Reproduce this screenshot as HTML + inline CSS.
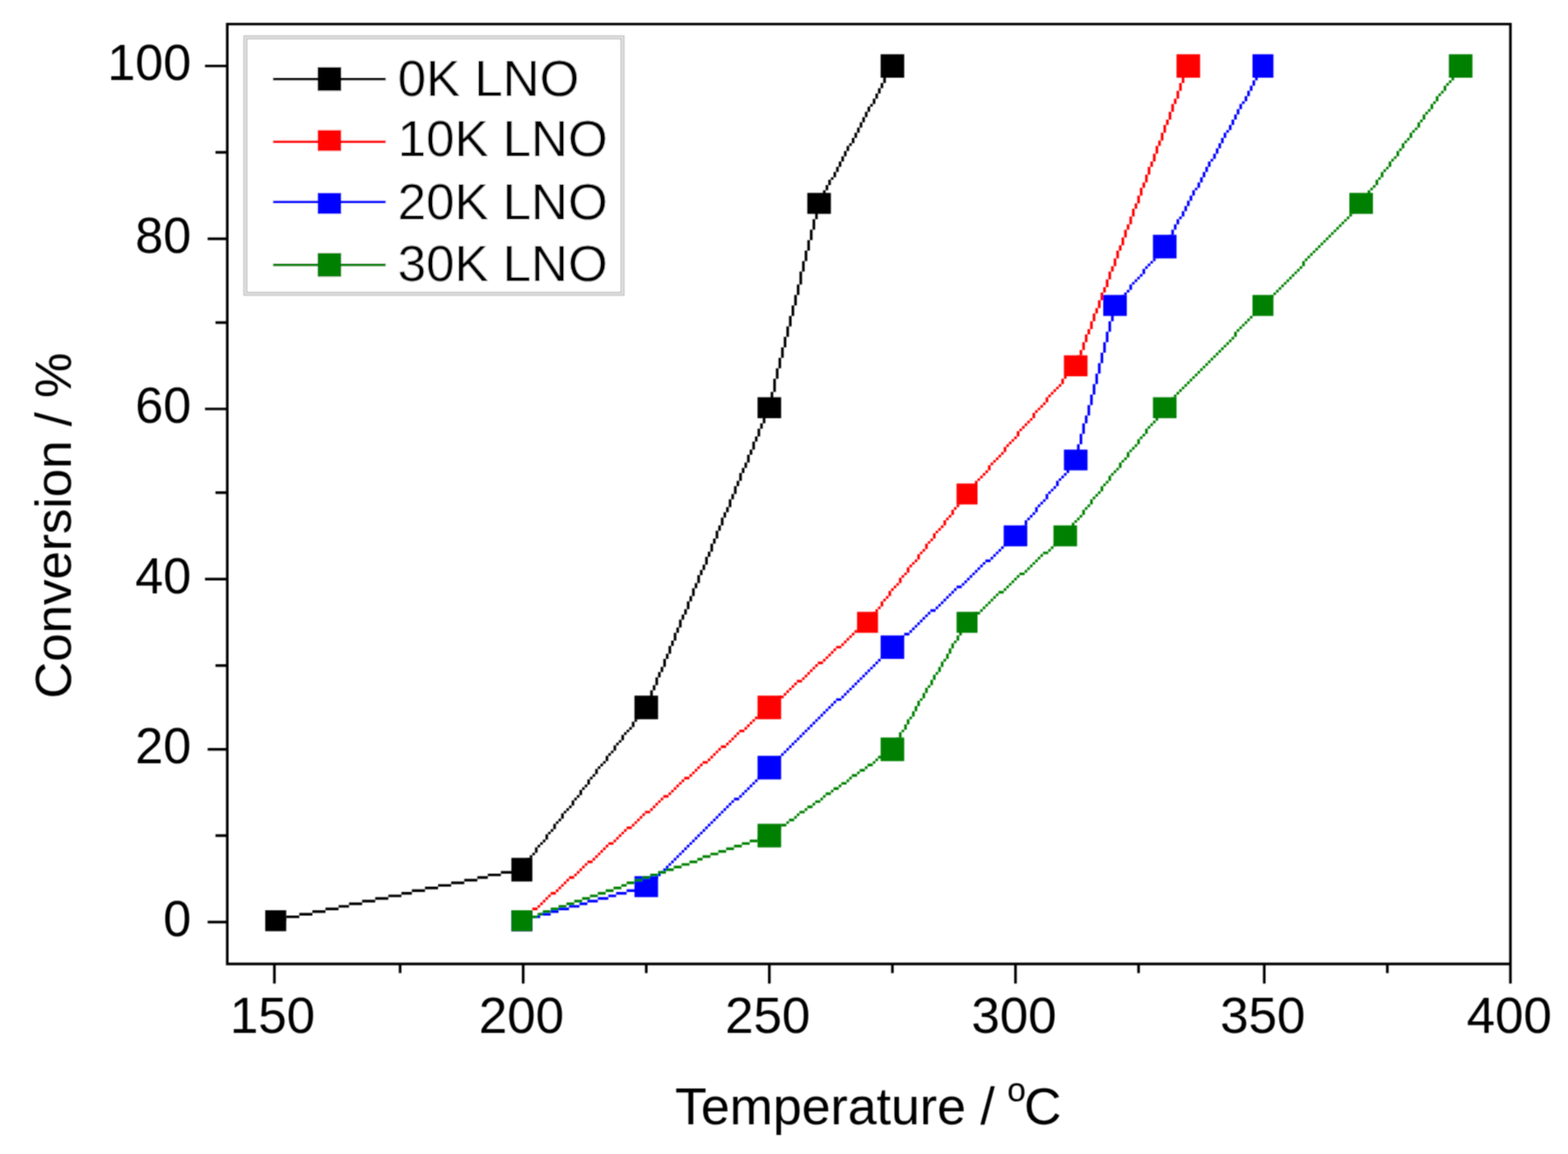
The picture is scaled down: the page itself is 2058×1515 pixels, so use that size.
<!DOCTYPE html><html><head><meta charset="utf-8"><title>Conversion vs Temperature</title>
<style>html,body{margin:0;padding:0;background:#fff;overflow:hidden;}svg{display:block;}text{font-family:"Liberation Sans",Arial,sans-serif;fill:#000;}</style></head><body>
<svg width="2058" height="1515" viewBox="0 0 2058 1515">
<defs><filter id="soft" x="0" y="0" width="100%" height="100%" filterUnits="userSpaceOnUse"><feConvolveMatrix order="3" kernelMatrix="1 2 1 2 4 2 1 2 1" divisor="16" edgeMode="duplicate" preserveAlpha="false"/></filter></defs>
<rect x="0" y="0" width="2058" height="1515" fill="#fff"/>
<g filter="url(#soft)">
<rect x="322.1" y="49.1" width="494.9" height="336.6" fill="#fff" stroke="#c0c0c0" stroke-width="5.2"/>
<rect x="322.1" y="49.1" width="494.9" height="336.6" fill="none" stroke="#e6e6e6" stroke-width="2"/>
<path d="M296.58 29.90H1984.15V33.33H296.58ZM296.58 1263.78H1984.15V1267.22H296.58ZM296.58 29.90H300.02V1267.22H296.58ZM1980.71 29.90H1984.15V1267.22H1980.71ZM358.45 1267.22H361.88V1291.28H358.45ZM684.96 1267.22H688.40V1291.28H684.96ZM1008.04 1267.22H1011.48V1291.28H1008.04ZM1331.12 1267.22H1334.56V1291.28H1331.12ZM1657.63 1267.22H1661.07V1291.28H1657.63ZM1980.71 1267.22H1984.15V1291.28H1980.71ZM523.42 1267.22H526.86V1277.53H523.42ZM846.50 1267.22H849.94V1277.53H846.50ZM1169.58 1267.22H1173.02V1277.53H1169.58ZM1492.66 1267.22H1496.10V1277.53H1492.66ZM1819.17 1267.22H1822.61V1277.53H1819.17ZM269.09 84.89H296.58V88.33H269.09ZM272.52 311.73H296.58V315.17H272.52ZM269.09 535.13H296.58V538.57H269.09ZM269.09 758.54H296.58V761.98H269.09ZM272.52 981.94H296.58V985.38H272.52ZM272.52 1208.79H296.58V1212.22H272.52ZM282.83 198.31H296.58V201.75H282.83ZM282.83 421.71H296.58V425.15H282.83ZM282.83 645.12H296.58V648.56H282.83ZM282.83 871.96H296.58V875.40H282.83ZM282.83 1095.37H296.58V1098.80H282.83Z" fill="#000"/>
<path d="M358.45 1205.35H375.63V1208.79H358.45ZM375.63 1201.91H392.82V1205.35H375.63ZM392.82 1198.48H410.00V1201.91H392.82ZM410.00 1195.04H427.19V1198.48H410.00ZM427.19 1191.60H444.37V1195.04H427.19ZM444.37 1188.16H458.12V1191.60H444.37ZM458.12 1184.73H475.31V1188.16H458.12ZM475.31 1181.29H492.49V1184.73H475.31ZM492.49 1177.85H509.68V1181.29H492.49ZM509.68 1174.42H526.86V1177.85H509.68ZM526.86 1170.98H540.61V1174.42H526.86ZM540.61 1167.54H557.79V1170.98H540.61ZM557.79 1164.11H574.98V1167.54H557.79ZM574.98 1160.67H592.16V1164.11H574.98ZM592.16 1157.23H609.35V1160.67H592.16ZM609.35 1153.80H626.53V1157.23H609.35ZM626.53 1150.36H640.28V1153.80H626.53ZM640.28 1146.92H657.47V1150.36H640.28ZM657.47 1143.48H674.65V1146.92H657.47ZM674.65 1140.05H684.96V1143.48H674.65ZM846.50 926.95H849.94V930.39H846.50ZM843.06 930.39H846.50V933.83H843.06ZM839.63 933.83H843.06V940.70H839.63ZM836.19 940.70H839.63V944.14H836.19ZM832.75 944.14H836.19V947.57H832.75ZM829.32 947.57H832.75V954.45H829.32ZM825.88 954.45H829.32V957.89H825.88ZM822.44 957.89H825.88V961.32H822.44ZM819.01 961.32H822.44V964.76H819.01ZM815.57 964.76H819.01V971.63H815.57ZM812.13 971.63H815.57V975.07H812.13ZM808.69 975.07H812.13V978.51H808.69ZM805.26 978.51H808.69V985.38H805.26ZM801.82 985.38H805.26V988.82H801.82ZM798.38 988.82H801.82V992.26H798.38ZM794.95 992.26H798.38V999.13H794.95ZM791.51 999.13H794.95V1002.57H791.51ZM788.07 1002.57H791.51V1006.00H788.07ZM784.64 1006.00H788.07V1009.44H784.64ZM781.20 1009.44H784.64V1016.31H781.20ZM777.76 1016.31H781.20V1019.75H777.76ZM774.32 1019.75H777.76V1023.19H774.32ZM770.89 1023.19H774.32V1030.06H770.89ZM767.45 1030.06H770.89V1033.50H767.45ZM764.01 1033.50H767.45V1036.94H764.01ZM760.58 1036.94H764.01V1043.81H760.58ZM757.14 1043.81H760.58V1047.25H757.14ZM753.70 1047.25H757.14V1050.68H753.70ZM750.27 1050.68H753.70V1057.56H750.27ZM746.83 1057.56H750.27V1061.00H746.83ZM743.39 1061.00H746.83V1064.43H743.39ZM739.95 1064.43H743.39V1067.87H739.95ZM736.52 1067.87H739.95V1074.74H736.52ZM733.08 1074.74H736.52V1078.18H733.08ZM729.64 1078.18H733.08V1081.62H729.64ZM726.21 1081.62H729.64V1088.49H726.21ZM722.77 1088.49H726.21V1091.93H722.77ZM719.33 1091.93H722.77V1095.37H719.33ZM715.90 1095.37H719.33V1102.24H715.90ZM712.46 1102.24H715.90V1105.68H712.46ZM709.02 1105.68H712.46V1109.11H709.02ZM705.58 1109.11H709.02V1112.55H705.58ZM702.15 1112.55H705.58V1119.42H702.15ZM698.71 1119.42H702.15V1122.86H698.71ZM695.27 1122.86H698.71V1126.30H695.27ZM691.84 1126.30H695.27V1133.17H691.84ZM688.40 1133.17H691.84V1136.61H688.40ZM684.96 1136.61H688.40V1140.05H684.96ZM681.53 1140.05H684.96V1143.48H681.53ZM1008.04 531.70H1011.48V538.57H1008.04ZM1004.60 538.57H1008.04V545.45H1004.60ZM1001.17 545.45H1004.60V555.76H1001.17ZM997.73 555.76H1001.17V562.63H997.73ZM994.29 562.63H997.73V572.94H994.29ZM990.86 572.94H994.29V579.82H990.86ZM987.42 579.82H990.86V590.13H987.42ZM983.98 590.13H987.42V597.00H983.98ZM980.54 597.00H983.98V607.31H980.54ZM977.11 607.31H980.54V614.19H977.11ZM973.67 614.19H977.11V621.06H973.67ZM970.23 621.06H973.67V631.37H970.23ZM966.80 631.37H970.23V638.24H966.80ZM963.36 638.24H966.80V648.56H963.36ZM959.92 648.56H963.36V655.43H959.92ZM956.49 655.43H959.92V665.74H956.49ZM953.05 665.74H956.49V672.61H953.05ZM949.61 672.61H953.05V679.49H949.61ZM946.17 679.49H949.61V689.80H946.17ZM942.74 689.80H946.17V696.67H942.74ZM939.30 696.67H942.74V706.98H939.30ZM935.86 706.98H939.30V713.86H935.86ZM932.43 713.86H935.86V724.17H932.43ZM928.99 724.17H932.43V731.04H928.99ZM925.55 731.04H928.99V741.35H925.55ZM922.12 741.35H925.55V748.23H922.12ZM918.68 748.23H922.12V755.10H918.68ZM915.24 755.10H918.68V765.41H915.24ZM911.80 765.41H915.24V772.29H911.80ZM908.37 772.29H911.80V782.60H908.37ZM904.93 782.60H908.37V789.47H904.93ZM901.49 789.47H904.93V799.78H901.49ZM898.06 799.78H901.49V806.66H898.06ZM894.62 806.66H898.06V813.53H894.62ZM891.18 813.53H894.62V823.84H891.18ZM887.75 823.84H891.18V830.72H887.75ZM884.31 830.72H887.75V841.03H884.31ZM880.87 841.03H884.31V847.90H880.87ZM877.43 847.90H880.87V858.21H877.43ZM874.00 858.21H877.43V865.09H874.00ZM870.56 865.09H874.00V875.40H870.56ZM867.12 875.40H870.56V882.27H867.12ZM863.69 882.27H867.12V889.15H863.69ZM860.25 889.15H863.69V899.46H860.25ZM856.81 899.46H860.25V906.33H856.81ZM853.38 906.33H856.81V916.64H853.38ZM849.94 916.64H853.38V923.52H849.94ZM846.50 923.52H849.94V930.39H846.50ZM1073.34 263.61H1076.78V273.92H1073.34ZM1069.91 273.92H1073.34V287.67H1069.91ZM1066.47 287.67H1069.91V301.42H1066.47ZM1063.03 301.42H1066.47V315.17H1063.03ZM1059.60 315.17H1063.03V328.91H1059.60ZM1056.16 328.91H1059.60V342.66H1056.16ZM1052.72 342.66H1056.16V356.41H1052.72ZM1049.28 356.41H1052.72V373.60H1049.28ZM1045.85 373.60H1049.28V387.34H1045.85ZM1042.41 387.34H1045.85V401.09H1042.41ZM1038.97 401.09H1042.41V414.84H1038.97ZM1035.54 414.84H1038.97V428.59H1035.54ZM1032.10 428.59H1035.54V442.34H1032.10ZM1028.66 442.34H1032.10V456.08H1028.66ZM1025.23 456.08H1028.66V469.83H1025.23ZM1021.79 469.83H1025.23V483.58H1021.79ZM1018.35 483.58H1021.79V497.33H1018.35ZM1014.91 497.33H1018.35V514.51H1014.91ZM1011.48 514.51H1014.91V528.26H1011.48ZM1008.04 528.26H1011.48V535.13H1008.04ZM1169.58 84.89H1173.02V91.76H1169.58ZM1166.14 91.76H1169.58V95.20H1166.14ZM1162.71 95.20H1166.14V102.07H1162.71ZM1159.27 102.07H1162.71V108.95H1159.27ZM1155.83 108.95H1159.27V115.82H1155.83ZM1152.39 115.82H1155.83V122.69H1152.39ZM1148.96 122.69H1152.39V129.57H1148.96ZM1145.52 129.57H1148.96V136.44H1145.52ZM1142.08 136.44H1145.52V139.88H1142.08ZM1138.65 139.88H1142.08V146.75H1138.65ZM1135.21 146.75H1138.65V153.63H1135.21ZM1131.77 153.63H1135.21V160.50H1131.77ZM1128.34 160.50H1131.77V167.38H1128.34ZM1124.90 167.38H1128.34V174.25H1124.90ZM1121.46 174.25H1124.90V181.12H1121.46ZM1118.02 181.12H1121.46V188.00H1118.02ZM1114.59 188.00H1118.02V191.44H1114.59ZM1111.15 191.44H1114.59V198.31H1111.15ZM1107.71 198.31H1111.15V205.18H1107.71ZM1104.28 205.18H1107.71V212.06H1104.28ZM1100.84 212.06H1104.28V218.93H1100.84ZM1097.40 218.93H1100.84V225.81H1097.40ZM1093.97 225.81H1097.40V232.68H1093.97ZM1090.53 232.68H1093.97V236.12H1090.53ZM1087.09 236.12H1090.53V242.99H1087.09ZM1083.65 242.99H1087.09V249.86H1083.65ZM1080.22 249.86H1083.65V256.74H1080.22ZM1076.78 256.74H1080.22V263.61H1076.78ZM1073.34 263.61H1076.78V267.05H1073.34Z" fill="#000000"/>
<path d="M348.14 1195.04H375.63V1222.54H348.14ZM671.21 1126.30H698.71V1157.23H671.21ZM832.75 913.20H863.69V944.14H832.75ZM994.29 521.39H1025.23V548.88H994.29ZM1059.60 253.30H1090.53V280.80H1059.60ZM1155.83 71.14H1186.76V102.07H1155.83Z" fill="#000000"/>
<path d="M681.53 1205.35H688.40V1208.79H681.53ZM688.40 1201.91H691.84V1205.35H688.40ZM691.84 1198.48H695.27V1201.91H691.84ZM695.27 1195.04H698.71V1198.48H695.27ZM698.71 1191.60H705.58V1195.04H698.71ZM705.58 1188.16H709.02V1191.60H705.58ZM709.02 1184.73H712.46V1188.16H709.02ZM712.46 1181.29H715.90V1184.73H712.46ZM715.90 1177.85H719.33V1181.29H715.90ZM719.33 1174.42H722.77V1177.85H719.33ZM722.77 1170.98H729.64V1174.42H722.77ZM729.64 1167.54H733.08V1170.98H729.64ZM733.08 1164.11H736.52V1167.54H733.08ZM736.52 1160.67H739.95V1164.11H736.52ZM739.95 1157.23H743.39V1160.67H739.95ZM743.39 1153.80H746.83V1157.23H743.39ZM746.83 1150.36H753.70V1153.80H746.83ZM753.70 1146.92H757.14V1150.36H753.70ZM757.14 1143.48H760.58V1146.92H757.14ZM760.58 1140.05H764.01V1143.48H760.58ZM764.01 1136.61H767.45V1140.05H764.01ZM767.45 1133.17H770.89V1136.61H767.45ZM770.89 1129.74H777.76V1133.17H770.89ZM777.76 1126.30H781.20V1129.74H777.76ZM781.20 1122.86H784.64V1126.30H781.20ZM784.64 1119.42H788.07V1122.86H784.64ZM788.07 1115.99H791.51V1119.42H788.07ZM791.51 1112.55H794.95V1115.99H791.51ZM794.95 1109.11H798.38V1112.55H794.95ZM798.38 1105.68H805.26V1109.11H798.38ZM805.26 1102.24H808.69V1105.68H805.26ZM808.69 1098.80H812.13V1102.24H808.69ZM812.13 1095.37H815.57V1098.80H812.13ZM815.57 1091.93H819.01V1095.37H815.57ZM819.01 1088.49H822.44V1091.93H819.01ZM822.44 1085.06H829.32V1088.49H822.44ZM829.32 1081.62H832.75V1085.06H829.32ZM832.75 1078.18H836.19V1081.62H832.75ZM836.19 1074.74H839.63V1078.18H836.19ZM839.63 1071.31H843.06V1074.74H839.63ZM843.06 1067.87H846.50V1071.31H843.06ZM846.50 1064.43H853.38V1067.87H846.50ZM853.38 1061.00H856.81V1064.43H853.38ZM856.81 1057.56H860.25V1061.00H856.81ZM860.25 1054.12H863.69V1057.56H860.25ZM863.69 1050.68H867.12V1054.12H863.69ZM867.12 1047.25H870.56V1050.68H867.12ZM870.56 1043.81H877.43V1047.25H870.56ZM877.43 1040.37H880.87V1043.81H877.43ZM880.87 1036.94H884.31V1040.37H880.87ZM884.31 1033.50H887.75V1036.94H884.31ZM887.75 1030.06H891.18V1033.50H887.75ZM891.18 1026.63H894.62V1030.06H891.18ZM894.62 1023.19H898.06V1026.63H894.62ZM898.06 1019.75H904.93V1023.19H898.06ZM904.93 1016.31H908.37V1019.75H904.93ZM908.37 1012.88H911.80V1016.31H908.37ZM911.80 1009.44H915.24V1012.88H911.80ZM915.24 1006.00H918.68V1009.44H915.24ZM918.68 1002.57H922.12V1006.00H918.68ZM922.12 999.13H928.99V1002.57H922.12ZM928.99 995.69H932.43V999.13H928.99ZM932.43 992.26H935.86V995.69H932.43ZM935.86 988.82H939.30V992.26H935.86ZM939.30 985.38H942.74V988.82H939.30ZM942.74 981.94H946.17V985.38H942.74ZM946.17 978.51H953.05V981.94H946.17ZM953.05 975.07H956.49V978.51H953.05ZM956.49 971.63H959.92V975.07H956.49ZM959.92 968.20H963.36V971.63H959.92ZM963.36 964.76H966.80V968.20H963.36ZM966.80 961.32H970.23V964.76H966.80ZM970.23 957.89H977.11V961.32H970.23ZM977.11 954.45H980.54V957.89H977.11ZM980.54 951.01H983.98V954.45H980.54ZM983.98 947.57H987.42V951.01H983.98ZM987.42 944.14H990.86V947.57H987.42ZM990.86 940.70H994.29V944.14H990.86ZM994.29 937.26H997.73V940.70H994.29ZM997.73 933.83H1004.60V937.26H997.73ZM1004.60 930.39H1008.04V933.83H1004.60ZM1008.04 926.95H1011.48V930.39H1008.04ZM1008.04 926.95H1011.48V930.39H1008.04ZM1011.48 923.52H1014.91V926.95H1011.48ZM1014.91 920.08H1018.35V923.52H1014.91ZM1018.35 916.64H1021.79V920.08H1018.35ZM1021.79 913.20H1028.66V916.64H1021.79ZM1028.66 909.77H1032.10V913.20H1028.66ZM1032.10 906.33H1035.54V909.77H1032.10ZM1035.54 902.89H1038.97V906.33H1035.54ZM1038.97 899.46H1042.41V902.89H1038.97ZM1042.41 896.02H1045.85V899.46H1042.41ZM1045.85 892.58H1052.72V896.02H1045.85ZM1052.72 889.15H1056.16V892.58H1052.72ZM1056.16 885.71H1059.60V889.15H1056.16ZM1059.60 882.27H1063.03V885.71H1059.60ZM1063.03 878.83H1066.47V882.27H1063.03ZM1066.47 875.40H1069.91V878.83H1066.47ZM1069.91 871.96H1073.34V875.40H1069.91ZM1073.34 868.52H1080.22V871.96H1073.34ZM1080.22 865.09H1083.65V868.52H1080.22ZM1083.65 861.65H1087.09V865.09H1083.65ZM1087.09 858.21H1090.53V861.65H1087.09ZM1090.53 854.78H1093.97V858.21H1090.53ZM1093.97 851.34H1097.40V854.78H1093.97ZM1097.40 847.90H1104.28V851.34H1097.40ZM1104.28 844.46H1107.71V847.90H1104.28ZM1107.71 841.03H1111.15V844.46H1107.71ZM1111.15 837.59H1114.59V841.03H1111.15ZM1114.59 834.15H1118.02V837.59H1114.59ZM1118.02 830.72H1121.46V834.15H1118.02ZM1121.46 827.28H1124.90V830.72H1121.46ZM1124.90 823.84H1131.77V827.28H1124.90ZM1131.77 820.41H1135.21V823.84H1131.77ZM1135.21 816.97H1138.65V820.41H1135.21ZM1265.82 648.56H1269.25V651.99H1265.82ZM1262.38 651.99H1265.82V658.87H1262.38ZM1258.94 658.87H1262.38V662.30H1258.94ZM1255.50 662.30H1258.94V665.74H1255.50ZM1252.07 665.74H1255.50V669.18H1252.07ZM1248.63 669.18H1252.07V676.05H1248.63ZM1245.19 676.05H1248.63V679.49H1245.19ZM1241.76 679.49H1245.19V682.93H1241.76ZM1238.32 682.93H1241.76V689.80H1238.32ZM1234.88 689.80H1238.32V693.24H1234.88ZM1231.45 693.24H1234.88V696.67H1231.45ZM1228.01 696.67H1231.45V700.11H1228.01ZM1224.57 700.11H1228.01V706.98H1224.57ZM1221.13 706.98H1224.57V710.42H1221.13ZM1217.70 710.42H1221.13V713.86H1217.70ZM1214.26 713.86H1217.70V720.73H1214.26ZM1210.82 720.73H1214.26V724.17H1210.82ZM1207.39 724.17H1210.82V727.61H1207.39ZM1203.95 727.61H1207.39V734.48H1203.95ZM1200.51 734.48H1203.95V737.92H1200.51ZM1197.08 737.92H1200.51V741.35H1197.08ZM1193.64 741.35H1197.08V744.79H1193.64ZM1190.20 744.79H1193.64V751.67H1190.20ZM1186.76 751.67H1190.20V755.10H1186.76ZM1183.33 755.10H1186.76V758.54H1183.33ZM1179.89 758.54H1183.33V765.41H1179.89ZM1176.45 765.41H1179.89V768.85H1176.45ZM1173.02 768.85H1176.45V772.29H1173.02ZM1169.58 772.29H1173.02V775.72H1169.58ZM1166.14 775.72H1169.58V782.60H1166.14ZM1162.71 782.60H1166.14V786.04H1162.71ZM1159.27 786.04H1162.71V789.47H1159.27ZM1155.83 789.47H1159.27V796.35H1155.83ZM1152.39 796.35H1155.83V799.78H1152.39ZM1148.96 799.78H1152.39V803.22H1148.96ZM1145.52 803.22H1148.96V806.66H1145.52ZM1142.08 806.66H1145.52V813.53H1142.08ZM1138.65 813.53H1142.08V816.97H1138.65ZM1410.17 480.14H1413.61V483.58H1410.17ZM1406.73 483.58H1410.17V487.02H1406.73ZM1403.30 487.02H1406.73V490.45H1403.30ZM1399.86 490.45H1403.30V493.89H1399.86ZM1396.42 493.89H1399.86V497.33H1396.42ZM1392.98 497.33H1396.42V504.20H1392.98ZM1389.55 504.20H1392.98V507.64H1389.55ZM1386.11 507.64H1389.55V511.08H1386.11ZM1382.67 511.08H1386.11V514.51H1382.67ZM1379.24 514.51H1382.67V517.95H1379.24ZM1375.80 517.95H1379.24V521.39H1375.80ZM1372.36 521.39H1375.80V528.26H1372.36ZM1368.93 528.26H1372.36V531.70H1368.93ZM1365.49 531.70H1368.93V535.13H1365.49ZM1362.05 535.13H1365.49V538.57H1362.05ZM1358.62 538.57H1362.05V542.01H1358.62ZM1355.18 542.01H1358.62V548.88H1355.18ZM1351.74 548.88H1355.18V552.32H1351.74ZM1348.30 552.32H1351.74V555.76H1348.30ZM1344.87 555.76H1348.30V559.19H1344.87ZM1341.43 559.19H1344.87V562.63H1341.43ZM1337.99 562.63H1341.43V566.07H1337.99ZM1334.56 566.07H1337.99V572.94H1334.56ZM1331.12 572.94H1334.56V576.38H1331.12ZM1327.68 576.38H1331.12V579.82H1327.68ZM1324.24 579.82H1327.68V583.25H1324.24ZM1320.81 583.25H1324.24V586.69H1320.81ZM1317.37 586.69H1320.81V593.56H1317.37ZM1313.93 593.56H1317.37V597.00H1313.93ZM1310.50 597.00H1313.93V600.44H1310.50ZM1307.06 600.44H1310.50V603.88H1307.06ZM1303.62 603.88H1307.06V607.31H1303.62ZM1300.19 607.31H1303.62V610.75H1300.19ZM1296.75 610.75H1300.19V617.62H1296.75ZM1293.31 617.62H1296.75V621.06H1293.31ZM1289.88 621.06H1293.31V624.50H1289.88ZM1286.44 624.50H1289.88V627.93H1286.44ZM1283.00 627.93H1286.44V631.37H1283.00ZM1279.56 631.37H1283.00V638.24H1279.56ZM1276.13 638.24H1279.56V641.68H1276.13ZM1272.69 641.68H1276.13V645.12H1272.69ZM1269.25 645.12H1272.69V648.56H1269.25ZM1265.82 648.56H1269.25V651.99H1265.82ZM1557.96 84.89H1561.40V91.76H1557.96ZM1554.52 91.76H1557.96V102.07H1554.52ZM1551.09 102.07H1554.52V108.95H1551.09ZM1547.65 108.95H1551.09V119.26H1547.65ZM1544.21 119.26H1547.65V129.57H1544.21ZM1540.78 129.57H1544.21V136.44H1540.78ZM1537.34 136.44H1540.78V146.75H1537.34ZM1533.90 146.75H1537.34V157.06H1533.90ZM1530.46 157.06H1533.90V163.94H1530.46ZM1527.03 163.94H1530.46V174.25H1527.03ZM1523.59 174.25H1527.03V184.56H1523.59ZM1520.15 184.56H1523.59V191.44H1520.15ZM1516.72 191.44H1520.15V201.75H1516.72ZM1513.28 201.75H1516.72V212.06H1513.28ZM1509.84 212.06H1513.28V218.93H1509.84ZM1506.41 218.93H1509.84V229.24H1506.41ZM1502.97 229.24H1506.41V239.55H1502.97ZM1499.53 239.55H1502.97V246.43H1499.53ZM1496.10 246.43H1499.53V256.74H1496.10ZM1492.66 256.74H1496.10V267.05H1492.66ZM1489.22 267.05H1492.66V273.92H1489.22ZM1485.78 273.92H1489.22V284.23H1485.78ZM1482.35 284.23H1485.78V294.54H1482.35ZM1478.91 294.54H1482.35V301.42H1478.91ZM1475.47 301.42H1478.91V311.73H1475.47ZM1472.04 311.73H1475.47V322.04H1472.04ZM1468.60 322.04H1472.04V328.91H1468.60ZM1465.16 328.91H1468.60V339.23H1465.16ZM1461.72 339.23H1465.16V349.54H1461.72ZM1458.29 349.54H1461.72V356.41H1458.29ZM1454.85 356.41H1458.29V366.72H1454.85ZM1451.41 366.72H1454.85V377.03H1451.41ZM1447.98 377.03H1451.41V383.91H1447.98ZM1444.54 383.91H1447.98V394.22H1444.54ZM1441.10 394.22H1444.54V404.53H1441.10ZM1437.67 404.53H1441.10V411.40H1437.67ZM1434.23 411.40H1437.67V421.71H1434.23ZM1430.79 421.71H1434.23V432.02H1430.79ZM1427.36 432.02H1430.79V438.90H1427.36ZM1423.92 438.90H1427.36V449.21H1423.92ZM1420.48 449.21H1423.92V459.52H1420.48ZM1417.04 459.52H1420.48V466.39H1417.04ZM1413.61 466.39H1417.04V476.71H1413.61ZM1410.17 476.71H1413.61V483.58H1410.17Z" fill="#ff0000"/>
<path d="M671.21 1195.04H698.71V1222.54H671.21ZM994.29 913.20H1025.23V944.14H994.29ZM1124.90 803.22H1152.39V830.72H1124.90ZM1255.50 634.81H1283.00V662.30H1255.50ZM1396.42 466.39H1427.36V493.89H1396.42ZM1544.21 71.14H1575.15V102.07H1544.21Z" fill="#ff0000"/>
<path d="M681.53 1205.35H695.27V1208.79H681.53ZM695.27 1201.91H709.02V1205.35H695.27ZM709.02 1198.48H722.77V1201.91H709.02ZM722.77 1195.04H733.08V1198.48H722.77ZM733.08 1191.60H746.83V1195.04H733.08ZM746.83 1188.16H760.58V1191.60H746.83ZM760.58 1184.73H770.89V1188.16H760.58ZM770.89 1181.29H784.64V1184.73H770.89ZM784.64 1177.85H798.38V1181.29H784.64ZM798.38 1174.42H808.69V1177.85H798.38ZM808.69 1170.98H822.44V1174.42H808.69ZM822.44 1167.54H836.19V1170.98H822.44ZM836.19 1164.11H849.94V1167.54H836.19ZM846.50 1160.67H853.38V1164.11H846.50ZM853.38 1157.23H856.81V1160.67H853.38ZM856.81 1153.80H860.25V1157.23H856.81ZM860.25 1150.36H863.69V1153.80H860.25ZM863.69 1146.92H867.12V1150.36H863.69ZM867.12 1143.48H870.56V1146.92H867.12ZM870.56 1140.05H874.00V1143.48H870.56ZM874.00 1136.61H877.43V1140.05H874.00ZM877.43 1133.17H880.87V1136.61H877.43ZM880.87 1129.74H884.31V1133.17H880.87ZM884.31 1126.30H887.75V1129.74H884.31ZM887.75 1122.86H891.18V1126.30H887.75ZM891.18 1119.42H894.62V1122.86H891.18ZM894.62 1115.99H898.06V1119.42H894.62ZM898.06 1112.55H901.49V1115.99H898.06ZM901.49 1109.11H904.93V1112.55H901.49ZM904.93 1105.68H908.37V1109.11H904.93ZM908.37 1102.24H911.80V1105.68H908.37ZM911.80 1098.80H915.24V1102.24H911.80ZM915.24 1095.37H918.68V1098.80H915.24ZM918.68 1091.93H922.12V1095.37H918.68ZM922.12 1088.49H925.55V1091.93H922.12ZM925.55 1085.06H928.99V1088.49H925.55ZM928.99 1081.62H932.43V1085.06H928.99ZM932.43 1078.18H935.86V1081.62H932.43ZM935.86 1074.74H939.30V1078.18H935.86ZM939.30 1071.31H942.74V1074.74H939.30ZM942.74 1067.87H946.17V1071.31H942.74ZM946.17 1064.43H949.61V1067.87H946.17ZM949.61 1061.00H953.05V1064.43H949.61ZM953.05 1057.56H956.49V1061.00H953.05ZM956.49 1054.12H959.92V1057.56H956.49ZM959.92 1050.68H963.36V1054.12H959.92ZM963.36 1047.25H970.23V1050.68H963.36ZM970.23 1043.81H973.67V1047.25H970.23ZM973.67 1040.37H977.11V1043.81H973.67ZM977.11 1036.94H980.54V1040.37H977.11ZM980.54 1033.50H983.98V1036.94H980.54ZM983.98 1030.06H987.42V1033.50H983.98ZM987.42 1026.63H990.86V1030.06H987.42ZM990.86 1023.19H994.29V1026.63H990.86ZM994.29 1019.75H997.73V1023.19H994.29ZM997.73 1016.31H1001.17V1019.75H997.73ZM1001.17 1012.88H1004.60V1016.31H1001.17ZM1004.60 1009.44H1008.04V1012.88H1004.60ZM1008.04 1006.00H1011.48V1009.44H1008.04ZM1008.04 1006.00H1011.48V1009.44H1008.04ZM1011.48 1002.57H1014.91V1006.00H1011.48ZM1014.91 999.13H1018.35V1002.57H1014.91ZM1018.35 995.69H1021.79V999.13H1018.35ZM1021.79 992.26H1025.23V995.69H1021.79ZM1025.23 988.82H1028.66V992.26H1025.23ZM1028.66 985.38H1032.10V988.82H1028.66ZM1032.10 981.94H1035.54V985.38H1032.10ZM1035.54 978.51H1038.97V981.94H1035.54ZM1038.97 975.07H1042.41V978.51H1038.97ZM1042.41 971.63H1045.85V975.07H1042.41ZM1045.85 968.20H1049.28V971.63H1045.85ZM1049.28 964.76H1052.72V968.20H1049.28ZM1052.72 961.32H1056.16V964.76H1052.72ZM1056.16 957.89H1059.60V961.32H1056.16ZM1059.60 954.45H1063.03V957.89H1059.60ZM1063.03 951.01H1066.47V954.45H1063.03ZM1066.47 947.57H1069.91V951.01H1066.47ZM1069.91 944.14H1073.34V947.57H1069.91ZM1073.34 940.70H1076.78V944.14H1073.34ZM1076.78 937.26H1080.22V940.70H1076.78ZM1080.22 933.83H1083.65V937.26H1080.22ZM1083.65 930.39H1087.09V933.83H1083.65ZM1087.09 926.95H1090.53V930.39H1087.09ZM1090.53 923.52H1093.97V926.95H1090.53ZM1093.97 920.08H1097.40V923.52H1093.97ZM1097.40 916.64H1104.28V920.08H1097.40ZM1104.28 913.20H1107.71V916.64H1104.28ZM1107.71 909.77H1111.15V913.20H1107.71ZM1111.15 906.33H1114.59V909.77H1111.15ZM1114.59 902.89H1118.02V906.33H1114.59ZM1118.02 899.46H1121.46V902.89H1118.02ZM1121.46 896.02H1124.90V899.46H1121.46ZM1124.90 892.58H1128.34V896.02H1124.90ZM1128.34 889.15H1131.77V892.58H1128.34ZM1131.77 885.71H1135.21V889.15H1131.77ZM1135.21 882.27H1138.65V885.71H1135.21ZM1138.65 878.83H1142.08V882.27H1138.65ZM1142.08 875.40H1145.52V878.83H1142.08ZM1145.52 871.96H1148.96V875.40H1145.52ZM1148.96 868.52H1152.39V871.96H1148.96ZM1152.39 865.09H1155.83V868.52H1152.39ZM1155.83 861.65H1159.27V865.09H1155.83ZM1159.27 858.21H1162.71V861.65H1159.27ZM1162.71 854.78H1166.14V858.21H1162.71ZM1166.14 851.34H1169.58V854.78H1166.14ZM1169.58 847.90H1173.02V851.34H1169.58ZM1169.58 847.90H1173.02V851.34H1169.58ZM1173.02 844.46H1176.45V847.90H1173.02ZM1176.45 841.03H1179.89V844.46H1176.45ZM1179.89 837.59H1183.33V841.03H1179.89ZM1183.33 834.15H1186.76V837.59H1183.33ZM1186.76 830.72H1193.64V834.15H1186.76ZM1193.64 827.28H1197.08V830.72H1193.64ZM1197.08 823.84H1200.51V827.28H1197.08ZM1200.51 820.41H1203.95V823.84H1200.51ZM1203.95 816.97H1207.39V820.41H1203.95ZM1207.39 813.53H1210.82V816.97H1207.39ZM1210.82 810.09H1214.26V813.53H1210.82ZM1214.26 806.66H1217.70V810.09H1214.26ZM1217.70 803.22H1221.13V806.66H1217.70ZM1221.13 799.78H1228.01V803.22H1221.13ZM1228.01 796.35H1231.45V799.78H1228.01ZM1231.45 792.91H1234.88V796.35H1231.45ZM1234.88 789.47H1238.32V792.91H1234.88ZM1238.32 786.04H1241.76V789.47H1238.32ZM1241.76 782.60H1245.19V786.04H1241.76ZM1245.19 779.16H1248.63V782.60H1245.19ZM1248.63 775.72H1252.07V779.16H1248.63ZM1252.07 772.29H1255.50V775.72H1252.07ZM1255.50 768.85H1262.38V772.29H1255.50ZM1262.38 765.41H1265.82V768.85H1262.38ZM1265.82 761.98H1269.25V765.41H1265.82ZM1269.25 758.54H1272.69V761.98H1269.25ZM1272.69 755.10H1276.13V758.54H1272.69ZM1276.13 751.67H1279.56V755.10H1276.13ZM1279.56 748.23H1283.00V751.67H1279.56ZM1283.00 744.79H1286.44V748.23H1283.00ZM1286.44 741.35H1289.88V744.79H1286.44ZM1289.88 737.92H1293.31V741.35H1289.88ZM1293.31 734.48H1300.19V737.92H1293.31ZM1300.19 731.04H1303.62V734.48H1300.19ZM1303.62 727.61H1307.06V731.04H1303.62ZM1307.06 724.17H1310.50V727.61H1307.06ZM1310.50 720.73H1313.93V724.17H1310.50ZM1313.93 717.30H1317.37V720.73H1313.93ZM1317.37 713.86H1320.81V717.30H1317.37ZM1320.81 710.42H1324.24V713.86H1320.81ZM1324.24 706.98H1327.68V710.42H1324.24ZM1327.68 703.55H1334.56V706.98H1327.68ZM1410.17 603.88H1413.61V607.31H1410.17ZM1406.73 607.31H1410.17V610.75H1406.73ZM1403.30 610.75H1406.73V614.19H1403.30ZM1399.86 614.19H1403.30V621.06H1399.86ZM1396.42 621.06H1399.86V624.50H1396.42ZM1392.98 624.50H1396.42V627.93H1392.98ZM1389.55 627.93H1392.98V631.37H1389.55ZM1386.11 631.37H1389.55V638.24H1386.11ZM1382.67 638.24H1386.11V641.68H1382.67ZM1379.24 641.68H1382.67V645.12H1379.24ZM1375.80 645.12H1379.24V648.56H1375.80ZM1372.36 648.56H1375.80V655.43H1372.36ZM1368.93 655.43H1372.36V658.87H1368.93ZM1365.49 658.87H1368.93V662.30H1365.49ZM1362.05 662.30H1365.49V665.74H1362.05ZM1358.62 665.74H1362.05V672.61H1358.62ZM1355.18 672.61H1358.62V676.05H1355.18ZM1351.74 676.05H1355.18V679.49H1351.74ZM1348.30 679.49H1351.74V682.93H1348.30ZM1344.87 682.93H1348.30V689.80H1344.87ZM1341.43 689.80H1344.87V693.24H1341.43ZM1337.99 693.24H1341.43V696.67H1337.99ZM1334.56 696.67H1337.99V700.11H1334.56ZM1331.12 700.11H1334.56V706.98H1331.12ZM1461.72 401.09H1465.16V407.97H1461.72ZM1458.29 407.97H1461.72V421.71H1458.29ZM1454.85 421.71H1458.29V435.46H1454.85ZM1451.41 435.46H1454.85V449.21H1451.41ZM1447.98 449.21H1451.41V462.96H1447.98ZM1444.54 462.96H1447.98V476.71H1444.54ZM1441.10 476.71H1444.54V490.45H1441.10ZM1437.67 490.45H1441.10V504.20H1437.67ZM1434.23 504.20H1437.67V517.95H1434.23ZM1430.79 517.95H1434.23V531.70H1430.79ZM1427.36 531.70H1430.79V545.45H1427.36ZM1423.92 545.45H1427.36V555.76H1423.92ZM1420.48 555.76H1423.92V569.50H1420.48ZM1417.04 569.50H1420.48V583.25H1417.04ZM1413.61 583.25H1417.04V597.00H1413.61ZM1410.17 597.00H1413.61V607.31H1410.17ZM1527.03 322.04H1530.46V325.48H1527.03ZM1523.59 325.48H1527.03V328.91H1523.59ZM1520.15 328.91H1523.59V332.35H1520.15ZM1516.72 332.35H1520.15V339.23H1516.72ZM1513.28 339.23H1516.72V342.66H1513.28ZM1509.84 342.66H1513.28V346.10H1509.84ZM1506.41 346.10H1509.84V349.54H1506.41ZM1502.97 349.54H1506.41V352.97H1502.97ZM1499.53 352.97H1502.97V359.85H1499.53ZM1496.10 359.85H1499.53V363.28H1496.10ZM1492.66 363.28H1496.10V366.72H1492.66ZM1489.22 366.72H1492.66V370.16H1489.22ZM1485.78 370.16H1489.22V373.60H1485.78ZM1482.35 373.60H1485.78V380.47H1482.35ZM1478.91 380.47H1482.35V383.91H1478.91ZM1475.47 383.91H1478.91V387.34H1475.47ZM1472.04 387.34H1475.47V390.78H1472.04ZM1468.60 390.78H1472.04V394.22H1468.60ZM1465.16 394.22H1468.60V397.65H1465.16ZM1461.72 397.65H1465.16V404.53H1461.72ZM1657.63 84.89H1661.07V88.33H1657.63ZM1654.20 88.33H1657.63V95.20H1654.20ZM1650.76 95.20H1654.20V98.64H1650.76ZM1647.32 98.64H1650.76V105.51H1647.32ZM1643.89 105.51H1647.32V112.38H1643.89ZM1640.45 112.38H1643.89V119.26H1640.45ZM1637.01 119.26H1640.45V126.13H1637.01ZM1633.57 126.13H1637.01V133.01H1633.57ZM1630.14 133.01H1633.57V136.44H1630.14ZM1626.70 136.44H1630.14V143.32H1626.70ZM1623.26 143.32H1626.70V150.19H1623.26ZM1619.83 150.19H1623.26V157.06H1619.83ZM1616.39 157.06H1619.83V163.94H1616.39ZM1612.95 163.94H1616.39V170.81H1612.95ZM1609.52 170.81H1612.95V174.25H1609.52ZM1606.08 174.25H1609.52V181.12H1606.08ZM1602.64 181.12H1606.08V188.00H1602.64ZM1599.20 188.00H1602.64V194.87H1599.20ZM1595.77 194.87H1599.20V201.75H1595.77ZM1592.33 201.75H1595.77V208.62H1592.33ZM1588.89 208.62H1592.33V212.06H1588.89ZM1585.46 212.06H1588.89V218.93H1585.46ZM1582.02 218.93H1585.46V225.81H1582.02ZM1578.58 225.81H1582.02V232.68H1578.58ZM1575.15 232.68H1578.58V239.55H1575.15ZM1571.71 239.55H1575.15V246.43H1571.71ZM1568.27 246.43H1571.71V249.86H1568.27ZM1564.84 249.86H1568.27V256.74H1564.84ZM1561.40 256.74H1564.84V263.61H1561.40ZM1557.96 263.61H1561.40V270.49H1557.96ZM1554.52 270.49H1557.96V277.36H1554.52ZM1551.09 277.36H1554.52V284.23H1551.09ZM1547.65 284.23H1551.09V287.67H1547.65ZM1544.21 287.67H1547.65V294.54H1544.21ZM1540.78 294.54H1544.21V301.42H1540.78ZM1537.34 301.42H1540.78V308.29H1537.34ZM1533.90 308.29H1537.34V315.17H1533.90ZM1530.46 315.17H1533.90V322.04H1530.46ZM1527.03 322.04H1530.46V325.48H1527.03Z" fill="#0000ff"/>
<path d="M671.21 1195.04H698.71V1222.54H671.21ZM832.75 1150.36H863.69V1177.85H832.75ZM994.29 992.26H1025.23V1023.19H994.29ZM1155.83 834.15H1186.76V865.09H1155.83ZM1317.37 689.80H1348.30V717.30H1317.37ZM1396.42 590.13H1427.36V617.62H1396.42ZM1447.98 387.34H1478.91V414.84H1447.98ZM1513.28 308.29H1544.21V339.23H1513.28ZM1643.89 71.14H1671.38V102.07H1643.89Z" fill="#0000ff"/>
<path d="M681.53 1205.35H695.27V1208.79H681.53ZM695.27 1201.91H705.58V1205.35H695.27ZM705.58 1198.48H712.46V1201.91H705.58ZM712.46 1195.04H722.77V1198.48H712.46ZM722.77 1191.60H733.08V1195.04H722.77ZM733.08 1188.16H743.39V1191.60H733.08ZM743.39 1184.73H753.70V1188.16H743.39ZM753.70 1181.29H764.01V1184.73H753.70ZM764.01 1177.85H774.32V1181.29H764.01ZM774.32 1174.42H784.64V1177.85H774.32ZM784.64 1170.98H794.95V1174.42H784.64ZM794.95 1167.54H805.26V1170.98H794.95ZM805.26 1164.11H815.57V1167.54H805.26ZM815.57 1160.67H822.44V1164.11H815.57ZM822.44 1157.23H832.75V1160.67H822.44ZM832.75 1153.80H843.06V1157.23H832.75ZM843.06 1150.36H853.38V1153.80H843.06ZM853.38 1146.92H863.69V1150.36H853.38ZM863.69 1143.48H874.00V1146.92H863.69ZM874.00 1140.05H884.31V1143.48H874.00ZM884.31 1136.61H894.62V1140.05H884.31ZM894.62 1133.17H904.93V1136.61H894.62ZM904.93 1129.74H915.24V1133.17H904.93ZM915.24 1126.30H922.12V1129.74H915.24ZM922.12 1122.86H932.43V1126.30H922.12ZM932.43 1119.42H942.74V1122.86H932.43ZM942.74 1115.99H953.05V1119.42H942.74ZM953.05 1112.55H963.36V1115.99H953.05ZM963.36 1109.11H973.67V1112.55H963.36ZM973.67 1105.68H983.98V1109.11H973.67ZM983.98 1102.24H994.29V1105.68H983.98ZM994.29 1098.80H1004.60V1102.24H994.29ZM1004.60 1095.37H1011.48V1098.80H1004.60ZM1008.04 1095.37H1011.48V1098.80H1008.04ZM1011.48 1091.93H1014.91V1095.37H1011.48ZM1014.91 1088.49H1021.79V1091.93H1014.91ZM1021.79 1085.06H1025.23V1088.49H1021.79ZM1025.23 1081.62H1032.10V1085.06H1025.23ZM1032.10 1078.18H1035.54V1081.62H1032.10ZM1035.54 1074.74H1042.41V1078.18H1035.54ZM1042.41 1071.31H1045.85V1074.74H1042.41ZM1045.85 1067.87H1049.28V1071.31H1045.85ZM1049.28 1064.43H1056.16V1067.87H1049.28ZM1056.16 1061.00H1059.60V1064.43H1056.16ZM1059.60 1057.56H1066.47V1061.00H1059.60ZM1066.47 1054.12H1069.91V1057.56H1066.47ZM1069.91 1050.68H1076.78V1054.12H1069.91ZM1076.78 1047.25H1080.22V1050.68H1076.78ZM1080.22 1043.81H1083.65V1047.25H1080.22ZM1083.65 1040.37H1090.53V1043.81H1083.65ZM1090.53 1036.94H1093.97V1040.37H1090.53ZM1093.97 1033.50H1100.84V1036.94H1093.97ZM1100.84 1030.06H1104.28V1033.50H1100.84ZM1104.28 1026.63H1111.15V1030.06H1104.28ZM1111.15 1023.19H1114.59V1026.63H1111.15ZM1114.59 1019.75H1118.02V1023.19H1114.59ZM1118.02 1016.31H1124.90V1019.75H1118.02ZM1124.90 1012.88H1128.34V1016.31H1124.90ZM1128.34 1009.44H1135.21V1012.88H1128.34ZM1135.21 1006.00H1138.65V1009.44H1135.21ZM1138.65 1002.57H1145.52V1006.00H1138.65ZM1145.52 999.13H1148.96V1002.57H1145.52ZM1148.96 995.69H1152.39V999.13H1148.96ZM1152.39 992.26H1159.27V995.69H1152.39ZM1159.27 988.82H1162.71V992.26H1159.27ZM1162.71 985.38H1169.58V988.82H1162.71ZM1169.58 981.94H1173.02V985.38H1169.58ZM1265.82 813.53H1269.25V823.84H1265.82ZM1262.38 823.84H1265.82V827.28H1262.38ZM1258.94 827.28H1262.38V834.15H1258.94ZM1255.50 834.15H1258.94V841.03H1255.50ZM1252.07 841.03H1255.50V844.46H1252.07ZM1248.63 844.46H1252.07V851.34H1248.63ZM1245.19 851.34H1248.63V858.21H1245.19ZM1241.76 858.21H1245.19V865.09H1241.76ZM1238.32 865.09H1241.76V868.52H1238.32ZM1234.88 868.52H1238.32V875.40H1234.88ZM1231.45 875.40H1234.88V882.27H1231.45ZM1228.01 882.27H1231.45V885.71H1228.01ZM1224.57 885.71H1228.01V892.58H1224.57ZM1221.13 892.58H1224.57V899.46H1221.13ZM1217.70 899.46H1221.13V902.89H1217.70ZM1214.26 902.89H1217.70V909.77H1214.26ZM1210.82 909.77H1214.26V916.64H1210.82ZM1207.39 916.64H1210.82V920.08H1207.39ZM1203.95 920.08H1207.39V926.95H1203.95ZM1200.51 926.95H1203.95V933.83H1200.51ZM1197.08 933.83H1200.51V940.70H1197.08ZM1193.64 940.70H1197.08V944.14H1193.64ZM1190.20 944.14H1193.64V951.01H1190.20ZM1186.76 951.01H1190.20V957.89H1186.76ZM1183.33 957.89H1186.76V961.32H1183.33ZM1179.89 961.32H1183.33V968.20H1179.89ZM1176.45 968.20H1179.89V975.07H1176.45ZM1173.02 975.07H1176.45V978.51H1173.02ZM1169.58 978.51H1173.02V985.38H1169.58ZM1265.82 813.53H1272.69V816.97H1265.82ZM1272.69 810.09H1276.13V813.53H1272.69ZM1276.13 806.66H1279.56V810.09H1276.13ZM1279.56 803.22H1286.44V806.66H1279.56ZM1286.44 799.78H1289.88V803.22H1286.44ZM1289.88 796.35H1293.31V799.78H1289.88ZM1293.31 792.91H1296.75V796.35H1293.31ZM1296.75 789.47H1300.19V792.91H1296.75ZM1300.19 786.04H1303.62V789.47H1300.19ZM1303.62 782.60H1307.06V786.04H1303.62ZM1307.06 779.16H1310.50V782.60H1307.06ZM1310.50 775.72H1317.37V779.16H1310.50ZM1317.37 772.29H1320.81V775.72H1317.37ZM1320.81 768.85H1324.24V772.29H1320.81ZM1324.24 765.41H1327.68V768.85H1324.24ZM1327.68 761.98H1331.12V765.41H1327.68ZM1331.12 758.54H1334.56V761.98H1331.12ZM1334.56 755.10H1337.99V758.54H1334.56ZM1337.99 751.67H1344.87V755.10H1337.99ZM1344.87 748.23H1348.30V751.67H1344.87ZM1348.30 744.79H1351.74V748.23H1348.30ZM1351.74 741.35H1355.18V744.79H1351.74ZM1355.18 737.92H1358.62V741.35H1355.18ZM1358.62 734.48H1362.05V737.92H1358.62ZM1362.05 731.04H1365.49V734.48H1362.05ZM1365.49 727.61H1368.93V731.04H1365.49ZM1368.93 724.17H1375.80V727.61H1368.93ZM1375.80 720.73H1379.24V724.17H1375.80ZM1379.24 717.30H1382.67V720.73H1379.24ZM1382.67 713.86H1386.11V717.30H1382.67ZM1386.11 710.42H1389.55V713.86H1386.11ZM1389.55 706.98H1392.98V710.42H1389.55ZM1392.98 703.55H1396.42V706.98H1392.98ZM1396.42 700.11H1399.86V703.55H1396.42ZM1527.03 531.70H1530.46V538.57H1527.03ZM1523.59 538.57H1527.03V542.01H1523.59ZM1520.15 542.01H1523.59V545.45H1520.15ZM1516.72 545.45H1520.15V552.32H1516.72ZM1513.28 552.32H1516.72V555.76H1513.28ZM1509.84 555.76H1513.28V559.19H1509.84ZM1506.41 559.19H1509.84V562.63H1506.41ZM1502.97 562.63H1506.41V569.50H1502.97ZM1499.53 569.50H1502.97V572.94H1499.53ZM1496.10 572.94H1499.53V576.38H1496.10ZM1492.66 576.38H1496.10V583.25H1492.66ZM1489.22 583.25H1492.66V586.69H1489.22ZM1485.78 586.69H1489.22V590.13H1485.78ZM1482.35 590.13H1485.78V593.56H1482.35ZM1478.91 593.56H1482.35V600.44H1478.91ZM1475.47 600.44H1478.91V603.88H1475.47ZM1472.04 603.88H1475.47V607.31H1472.04ZM1468.60 607.31H1472.04V614.19H1468.60ZM1465.16 614.19H1468.60V617.62H1465.16ZM1461.72 617.62H1465.16V621.06H1461.72ZM1458.29 621.06H1461.72V624.50H1458.29ZM1454.85 624.50H1458.29V631.37H1454.85ZM1451.41 631.37H1454.85V634.81H1451.41ZM1447.98 634.81H1451.41V638.24H1447.98ZM1444.54 638.24H1447.98V645.12H1444.54ZM1441.10 645.12H1444.54V648.56H1441.10ZM1437.67 648.56H1441.10V651.99H1437.67ZM1434.23 651.99H1437.67V655.43H1434.23ZM1430.79 655.43H1434.23V662.30H1430.79ZM1427.36 662.30H1430.79V665.74H1427.36ZM1423.92 665.74H1427.36V669.18H1423.92ZM1420.48 669.18H1423.92V676.05H1420.48ZM1417.04 676.05H1420.48V679.49H1417.04ZM1413.61 679.49H1417.04V682.93H1413.61ZM1410.17 682.93H1413.61V686.36H1410.17ZM1406.73 686.36H1410.17V693.24H1406.73ZM1403.30 693.24H1406.73V696.67H1403.30ZM1399.86 696.67H1403.30V700.11H1399.86ZM1396.42 700.11H1399.86V703.55H1396.42ZM1657.63 397.65H1661.07V401.09H1657.63ZM1654.20 401.09H1657.63V404.53H1654.20ZM1650.76 404.53H1654.20V407.97H1650.76ZM1647.32 407.97H1650.76V411.40H1647.32ZM1643.89 411.40H1647.32V414.84H1643.89ZM1640.45 414.84H1643.89V418.28H1640.45ZM1637.01 418.28H1640.45V421.71H1637.01ZM1633.57 421.71H1637.01V425.15H1633.57ZM1630.14 425.15H1633.57V428.59H1630.14ZM1626.70 428.59H1630.14V432.02H1626.70ZM1623.26 432.02H1626.70V435.46H1623.26ZM1619.83 435.46H1623.26V442.34H1619.83ZM1616.39 442.34H1619.83V445.77H1616.39ZM1612.95 445.77H1616.39V449.21H1612.95ZM1609.52 449.21H1612.95V452.65H1609.52ZM1606.08 452.65H1609.52V456.08H1606.08ZM1602.64 456.08H1606.08V459.52H1602.64ZM1599.20 459.52H1602.64V462.96H1599.20ZM1595.77 462.96H1599.20V466.39H1595.77ZM1592.33 466.39H1595.77V469.83H1592.33ZM1588.89 469.83H1592.33V473.27H1588.89ZM1585.46 473.27H1588.89V476.71H1585.46ZM1582.02 476.71H1585.46V480.14H1582.02ZM1578.58 480.14H1582.02V483.58H1578.58ZM1575.15 483.58H1578.58V487.02H1575.15ZM1571.71 487.02H1575.15V490.45H1571.71ZM1568.27 490.45H1571.71V493.89H1568.27ZM1564.84 493.89H1568.27V497.33H1564.84ZM1561.40 497.33H1564.84V500.76H1561.40ZM1557.96 500.76H1561.40V504.20H1557.96ZM1554.52 504.20H1557.96V507.64H1554.52ZM1551.09 507.64H1554.52V511.08H1551.09ZM1547.65 511.08H1551.09V514.51H1547.65ZM1544.21 514.51H1547.65V517.95H1544.21ZM1540.78 517.95H1544.21V521.39H1540.78ZM1537.34 521.39H1540.78V524.82H1537.34ZM1533.90 524.82H1537.34V528.26H1533.90ZM1530.46 528.26H1533.90V535.13H1530.46ZM1784.80 267.05H1788.24V270.49H1784.80ZM1781.37 270.49H1784.80V273.92H1781.37ZM1777.93 273.92H1781.37V277.36H1777.93ZM1774.49 277.36H1777.93V280.80H1774.49ZM1771.05 280.80H1774.49V284.23H1771.05ZM1767.62 284.23H1771.05V287.67H1767.62ZM1764.18 287.67H1767.62V291.11H1764.18ZM1760.74 291.11H1764.18V294.54H1760.74ZM1757.31 294.54H1760.74V297.98H1757.31ZM1753.87 297.98H1757.31V301.42H1753.87ZM1750.43 301.42H1753.87V304.86H1750.43ZM1747.00 304.86H1750.43V308.29H1747.00ZM1743.56 308.29H1747.00V311.73H1743.56ZM1740.12 311.73H1743.56V315.17H1740.12ZM1736.68 315.17H1740.12V318.60H1736.68ZM1733.25 318.60H1736.68V322.04H1733.25ZM1729.81 322.04H1733.25V325.48H1729.81ZM1726.37 325.48H1729.81V328.91H1726.37ZM1722.94 328.91H1726.37V332.35H1722.94ZM1719.50 332.35H1722.94V335.79H1719.50ZM1716.06 335.79H1719.50V339.23H1716.06ZM1712.63 339.23H1716.06V342.66H1712.63ZM1709.19 342.66H1712.63V349.54H1709.19ZM1705.75 349.54H1709.19V352.97H1705.75ZM1702.31 352.97H1705.75V356.41H1702.31ZM1698.88 356.41H1702.31V359.85H1698.88ZM1695.44 359.85H1698.88V363.28H1695.44ZM1692.00 363.28H1695.44V366.72H1692.00ZM1688.57 366.72H1692.00V370.16H1688.57ZM1685.13 370.16H1688.57V373.60H1685.13ZM1681.69 373.60H1685.13V377.03H1681.69ZM1678.26 377.03H1681.69V380.47H1678.26ZM1674.82 380.47H1678.26V383.91H1674.82ZM1671.38 383.91H1674.82V387.34H1671.38ZM1667.94 387.34H1671.38V390.78H1667.94ZM1664.51 390.78H1667.94V394.22H1664.51ZM1661.07 394.22H1664.51V397.65H1661.07ZM1657.63 397.65H1661.07V401.09H1657.63ZM1915.41 84.89H1918.85V88.33H1915.41ZM1911.97 88.33H1915.41V95.20H1911.97ZM1908.53 95.20H1911.97V98.64H1908.53ZM1905.10 98.64H1908.53V105.51H1905.10ZM1901.66 105.51H1905.10V108.95H1901.66ZM1898.22 108.95H1901.66V112.38H1898.22ZM1894.79 112.38H1898.22V119.26H1894.79ZM1891.35 119.26H1894.79V122.69H1891.35ZM1887.91 122.69H1891.35V126.13H1887.91ZM1884.48 126.13H1887.91V133.01H1884.48ZM1881.04 133.01H1884.48V136.44H1881.04ZM1877.60 136.44H1881.04V143.32H1877.60ZM1874.16 143.32H1877.60V146.75H1874.16ZM1870.73 146.75H1874.16V150.19H1870.73ZM1867.29 150.19H1870.73V157.06H1867.29ZM1863.85 157.06H1867.29V160.50H1863.85ZM1860.42 160.50H1863.85V167.38H1860.42ZM1856.98 167.38H1860.42V170.81H1856.98ZM1853.54 170.81H1856.98V174.25H1853.54ZM1850.11 174.25H1853.54V181.12H1850.11ZM1846.67 181.12H1850.11V184.56H1846.67ZM1843.23 184.56H1846.67V188.00H1843.23ZM1839.79 188.00H1843.23V194.87H1839.79ZM1836.36 194.87H1839.79V198.31H1836.36ZM1832.92 198.31H1836.36V205.18H1832.92ZM1829.48 205.18H1832.92V208.62H1829.48ZM1826.05 208.62H1829.48V212.06H1826.05ZM1822.61 212.06H1826.05V218.93H1822.61ZM1819.17 218.93H1822.61V222.37H1819.17ZM1815.74 222.37H1819.17V225.81H1815.74ZM1812.30 225.81H1815.74V232.68H1812.30ZM1808.86 232.68H1812.30V236.12H1808.86ZM1805.42 236.12H1808.86V242.99H1805.42ZM1801.99 242.99H1805.42V246.43H1801.99ZM1798.55 246.43H1801.99V249.86H1798.55ZM1795.11 249.86H1798.55V256.74H1795.11ZM1791.68 256.74H1795.11V260.17H1791.68ZM1788.24 260.17H1791.68V263.61H1788.24ZM1784.80 263.61H1788.24V270.49H1784.80Z" fill="#008000"/>
<path d="M671.21 1195.04H698.71V1222.54H671.21ZM994.29 1081.62H1025.23V1112.55H994.29ZM1155.83 968.20H1186.76V999.13H1155.83ZM1255.50 803.22H1283.00V830.72H1255.50ZM1382.67 689.80H1413.61V717.30H1382.67ZM1513.28 521.39H1544.21V548.88H1513.28ZM1643.89 387.34H1671.38V414.84H1643.89ZM1771.05 253.30H1801.99V280.80H1771.05ZM1901.66 71.14H1932.59V102.07H1901.66Z" fill="#008000"/>
<text x="251" y="1229.0" font-size="66" text-anchor="end">0</text>
<text x="251" y="1002.1" font-size="66" text-anchor="end">20</text>
<text x="251" y="778.8" font-size="66" text-anchor="end">40</text>
<text x="251" y="555.3" font-size="66" text-anchor="end">60</text>
<text x="251" y="332.1" font-size="66" text-anchor="end">80</text>
<text x="251" y="105.4" font-size="66" text-anchor="end">100</text>
<text x="357.7" y="1356" font-size="67" text-anchor="middle">150</text>
<text x="684.4" y="1356" font-size="67" text-anchor="middle">200</text>
<text x="1007.7" y="1356" font-size="67" text-anchor="middle">250</text>
<text x="1330.9" y="1356" font-size="67" text-anchor="middle">300</text>
<text x="1657.5" y="1356" font-size="67" text-anchor="middle">350</text>
<text x="1980.9" y="1356" font-size="67" text-anchor="middle">400</text>
<text x="886" y="1476" font-size="68">Temperature /<tspan x="1322" y="1446" font-size="44">o</tspan><tspan x="1344" y="1476">C</tspan></text>
<text transform="translate(93 690) rotate(-90)" font-size="67" text-anchor="middle">Conversion / %</text>
<path d="M358.45 102.07H506.24V105.51H358.45ZM416.88 88.33H447.81V119.26H416.88Z" fill="#000000"/>
<text x="522" y="126.0" font-size="67">0K LNO</text>
<path d="M358.45 184.56H506.24V188.00H358.45ZM416.88 170.81H447.81V198.31H416.88Z" fill="#ff0000"/>
<text x="522" y="204.6" font-size="67">10K LNO</text>
<path d="M358.45 263.61H506.24V267.05H358.45ZM416.88 253.30H447.81V280.80H416.88Z" fill="#0000ff"/>
<text x="522" y="287.6" font-size="67">20K LNO</text>
<path d="M358.45 346.10H506.24V349.54H358.45ZM416.88 332.35H447.81V363.28H416.88Z" fill="#008000"/>
<text x="522" y="369.3" font-size="67">30K LNO</text>
</g>
</svg></body></html>
